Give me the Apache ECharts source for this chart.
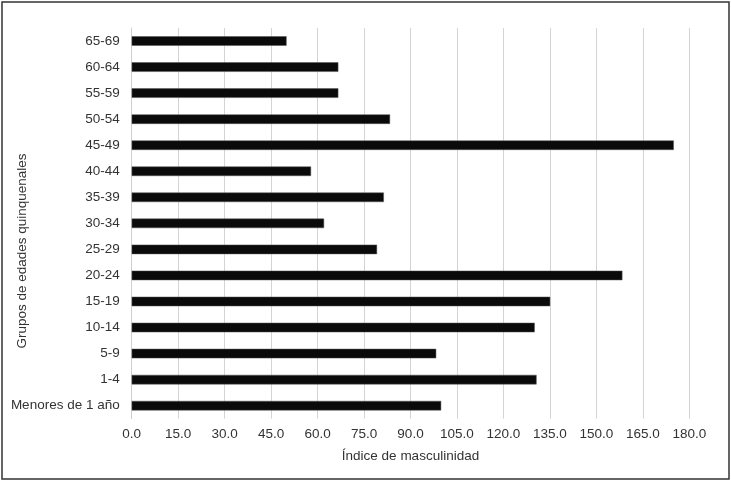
<!DOCTYPE html>
<html>
<head>
<meta charset="utf-8">
<script src="https://cdn.jsdelivr.net/npm/echarts@6/dist/echarts.min.js"></script>
<style>
  html, body { margin: 0; padding: 0; background: #ffffff; }
  #chart { width: 731px; height: 482px; }
</style>
</head>
<body>
<div id="chart"></div>
<script>
// Age groups, bottom to top
const ageGroups = ['Menores de 1 año', '1-4', '5-9', '10-14', '15-19', '20-24', '25-29',
  '30-34', '35-39', '40-44', '45-49', '50-54', '55-59', '60-64', '65-69'];
// Masculinity index per age group
const masculinityIndex = [99.9, 130.7, 98.3, 130.1, 135.1, 158.4, 79.2,
  62.1, 81.4, 57.9, 175.0, 83.4, 66.7, 66.7, 50.0];
const xTitle = 'Índice de masculinidad';
const yTitle = 'Grupos de edades quinquenales';

const textColor = '#333333';
const fontFamily = 'Liberation Sans, Arial, sans-serif';
const fontSize = 13.5;

const chart = echarts.init(document.getElementById('chart'), null, { renderer: 'canvas' });
chart.setOption({
  backgroundColor: '#ffffff',
  animation: false,
  grid: { left: 131.7, right: 41.7, top: 28, bottom: 63.3, containLabel: false },
  xAxis: {
    type: 'value',
    min: 0,
    max: 180,
    interval: 15,
    name: xTitle,
    nameLocation: 'middle',
    nameGap: 31,
    nameTextStyle: { color: textColor, fontSize: fontSize, fontFamily: fontFamily },
    axisLine: { show: false },
    axisTick: { show: false },
    axisLabel: {
      color: textColor, fontSize: fontSize, fontFamily: fontFamily, margin: 9,
      formatter: v => v.toFixed(1)
    },
    splitLine: { show: true, lineStyle: { color: '#d4d4d4', width: 1 } }
  },
  yAxis: {
    type: 'category',
    data: ageGroups,
    axisLine: { show: true, lineStyle: { color: '#cfcfcf', width: 1 } },
    axisTick: { show: false },
    axisLabel: { color: textColor, fontSize: fontSize, fontFamily: fontFamily, margin: 12 },
    splitLine: { show: false }
  },
  graphic: [
    {
      type: 'text',
      x: 22,
      y: 251,
      rotation: Math.PI / 2,
      style: {
        text: yTitle,
        fill: textColor,
        font: fontSize + 'px ' + fontFamily,
        align: 'center',
        verticalAlign: 'middle'
      }
    },
    {
      type: 'rect',
      shape: { x: 2, y: 2, width: 727, height: 477 },
      style: { fill: 'none', stroke: '#333333', lineWidth: 1.5 },
      silent: true
    }
  ],
  series: [{
    type: 'bar',
    data: masculinityIndex,
    barWidth: 9.5,
    itemStyle: { color: '#0a0a0a', borderColor: '#555555', borderWidth: 0.5 }
  }]
});
</script>
</body>
</html>
